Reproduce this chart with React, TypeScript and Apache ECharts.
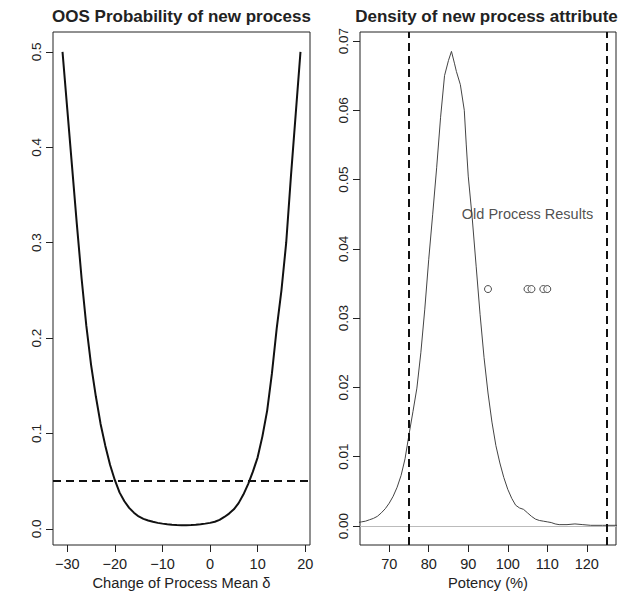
import React, { useEffect, useRef } from "react";
import * as echarts from "echarts";

// ---- Left panel: OOS probability vs change of process mean ----
const deltaValues = [
  -31, -30, -29, -28, -27, -26, -25, -24, -23, -22, -21, -20, -19, -18, -17, -16,
  -15, -14, -13, -12, -11, -10, -9, -8, -7, -6, -5, -4, -3, -2, -1, 0, 1, 2, 3, 4,
  5, 6, 7, 8, 9, 10, 11, 12, 13, 14, 15, 16, 17, 18, 19,
];
const oosProb = [
  0.5, 0.44, 0.38, 0.32, 0.263, 0.213, 0.172, 0.139, 0.11, 0.087, 0.067, 0.051,
  0.038, 0.029, 0.022, 0.017, 0.013, 0.0105, 0.0088, 0.0074, 0.0063, 0.0055,
  0.0048, 0.0043, 0.004, 0.0039, 0.0039, 0.004, 0.0043, 0.0048, 0.0055, 0.0063,
  0.0075, 0.0095, 0.0125, 0.016, 0.0205, 0.027, 0.036, 0.047, 0.06, 0.075, 0.097,
  0.124, 0.163, 0.21, 0.25, 0.3, 0.37, 0.435, 0.5,
];
const oosLimit = 0.05;
const leftXTicks = [-30, -20, -10, 0, 10, 20];
const leftYTicks = [0, 0.1, 0.2, 0.3, 0.4, 0.5];

// ---- Right panel: density of new process attribute ----
const potency = [
  62, 63, 64, 65, 66, 67, 68, 69, 70, 71, 72, 73, 74, 75, 76, 77, 78, 79, 80, 81,
  82, 83, 84, 85, 85.75, 86.5, 87, 88, 89, 89.5, 90, 91, 92, 93, 94, 95, 96, 97,
  98, 99, 100, 101, 102, 103, 104, 105, 106, 107, 108, 109, 110, 111, 112, 113,
  115, 117, 119, 121, 124, 128,
];
const density = [
  0.0005, 0.0006, 0.0007, 0.0009, 0.0011, 0.0014, 0.0019, 0.0025, 0.0033, 0.0043,
  0.0056, 0.0073, 0.0097, 0.0132, 0.0165, 0.0199, 0.025, 0.0313, 0.0385, 0.045,
  0.0517, 0.059, 0.065, 0.0672, 0.0685, 0.0668, 0.0656, 0.0637, 0.06, 0.055,
  0.0505, 0.0445, 0.0375, 0.0305, 0.0243, 0.0192, 0.015, 0.0116, 0.0091, 0.007,
  0.0053, 0.004, 0.003, 0.0026, 0.0024, 0.0019, 0.0014, 0.001, 0.0008, 0.0007,
  0.0006, 0.0005, 0.0003, 0.0002, 0.0002, 0.0003, 0.0002, 0.0001, 0.0001, 0.0001,
];
const specLimits = [75, 125];
const oldResults = [95, 105, 106, 109, 110];
const oldResultsLevel = 0.0342;
const oldLabel = { text: "Old Process Results", x: 105, y: 0.045 };
const rightXTicks = [70, 80, 90, 100, 110, 120];
const rightYTicks = [0, 0.01, 0.02, 0.03, 0.04, 0.05, 0.06, 0.07];

const FONT = "Liberation Sans, Arial, Helvetica, sans-serif";

export default function App() {
  const ref = useRef<HTMLDivElement>(null);

  useEffect(() => {
    if (!ref.current) return;
    const chart = echarts.init(ref.current, null, { renderer: "svg" });

    const axisCommon = {
      type: "value" as const,
      axisLine: { show: false, onZero: false },
      splitLine: { show: false },
      axisTick: { show: true, inside: false, length: 7, lineStyle: { color: "#222", width: 1 } },
    };

    const xLabel = {
      color: "#222",
      fontSize: 14.5,
      fontFamily: FONT,
      margin: 11,
    };
    const yLabel = {
      color: "#222",
      fontSize: 13.5,
      fontFamily: FONT,
      rotate: 90,
      margin: 10,
    };
    const nameStyle = { color: "#222", fontSize: 14.7, fontFamily: FONT, verticalAlign: "top" };

    const gridCommon = {
      top: 32,
      height: 513,
      show: true,
      borderColor: "#222",
      borderWidth: 1,
      backgroundColor: "transparent",
      containLabel: false,
      outerBoundsMode: "none",
    };

    chart.setOption({
      animation: false,
      backgroundColor: "#fff",
      grid: [
        { ...gridCommon, left: 53, width: 257 },
        { ...gridCommon, left: 360, width: 256 },
      ],
      xAxis: [
        {
          ...axisCommon,
          gridIndex: 0,
          min: -33,
          max: 21,
          axisTick: { ...axisCommon.axisTick, customValues: leftXTicks },
          axisLabel: { ...xLabel, customValues: leftXTicks, formatter: (v: number) => (v < 0 ? "\u2212" + Math.abs(v) : String(v)) },
          name: "Change of Process Mean \u03b4",
          nameLocation: "middle",
          nameGap: 27,
          nameTextStyle: nameStyle,
        },
        {
          ...axisCommon,
          gridIndex: 1,
          min: 62.6,
          max: 127.4,
          axisTick: { ...axisCommon.axisTick, customValues: rightXTicks },
          axisLabel: { ...xLabel, customValues: rightXTicks, formatter: (v: number) => String(v) },
          name: "Potency (%)",
          nameLocation: "middle",
          nameGap: 30,
          nameTextStyle: nameStyle,
        },
      ],
      yAxis: [
        {
          ...axisCommon,
          gridIndex: 0,
          min: -0.0169,
          max: 0.5209,
          axisTick: { ...axisCommon.axisTick, customValues: leftYTicks },
          axisLabel: { ...yLabel, customValues: leftYTicks, formatter: (v: number) => v.toFixed(1) },
        },
        {
          ...axisCommon,
          gridIndex: 1,
          min: -0.00274,
          max: 0.0713,
          axisTick: { ...axisCommon.axisTick, customValues: rightYTicks },
          axisLabel: { ...yLabel, customValues: rightYTicks, formatter: (v: number) => v.toFixed(2) },
        },
      ],
      series: [
        {
          type: "line",
          xAxisIndex: 0,
          yAxisIndex: 0,
          data: deltaValues.map((d, i) => [d, oosProb[i]]),
          showSymbol: false,
          lineStyle: { color: "#111", width: 2 },
          clip: true,
          silent: true,
          markLine: {
            silent: true,
            symbol: "none",
            label: { show: false },
            lineStyle: { color: "#111", width: 2, type: [8, 5] },
            data: [{ yAxis: oosLimit }],
          },
        },
        {
          type: "line",
          xAxisIndex: 1,
          yAxisIndex: 1,
          data: [],
          silent: true,
          markLine: {
            silent: true,
            symbol: "none",
            label: { show: false },
            lineStyle: { color: "#bbb", width: 1, type: "solid" },
            data: [{ yAxis: 0 }],
          },
        },
        {
          type: "line",
          xAxisIndex: 1,
          yAxisIndex: 1,
          data: potency.map((p, i) => [p, density[i]]),
          showSymbol: false,
          lineStyle: { color: "#444", width: 1 },
          clip: true,
          silent: true,
        },
        {
          type: "line",
          xAxisIndex: 1,
          yAxisIndex: 1,
          data: [],
          silent: true,
          markLine: {
            silent: true,
            symbol: "none",
            label: { show: false },
            lineStyle: { color: "#111", width: 2, type: [8, 5] },
            data: specLimits.map((s) => ({ xAxis: s })),
          },
        },
        {
          type: "scatter",
          xAxisIndex: 1,
          yAxisIndex: 1,
          data: oldResults.map((r) => [r, oldResultsLevel]),
          symbol: "circle",
          symbolSize: 7,
          itemStyle: { color: "#fff", borderColor: "#222", borderWidth: 1 },
          silent: true,
        },
        {
          type: "scatter",
          xAxisIndex: 1,
          yAxisIndex: 1,
          data: [[oldLabel.x, oldLabel.y]],
          symbolSize: 0,
          silent: true,
          label: {
            show: true,
            position: "inside",
            formatter: oldLabel.text,
            color: "#222",
            fontSize: 14.5,
            fontFamily: FONT,
          },
        },
      ],
      graphic: [
        {
          type: "text",
          x: 181.5,
          y: 16,
          style: {
            text: "OOS Probability of new process",
            textAlign: "center",
            textVerticalAlign: "middle",
            font: `bold 17px ${FONT}`,
            fill: "#222",
          },
        },
        {
          type: "text",
          x: 486.5,
          y: 16,
          style: {
            text: "Density of new process attribute",
            textAlign: "center",
            textVerticalAlign: "middle",
            font: `bold 17px ${FONT}`,
            fill: "#222",
          },
        },
      ],
    });

    return () => chart.dispose();
  }, []);

  return (
    <div
      ref={ref}
      style={{ position: "fixed", left: 0, top: 0, width: 620, height: 592, background: "#fff" }}
    />
  );
}
